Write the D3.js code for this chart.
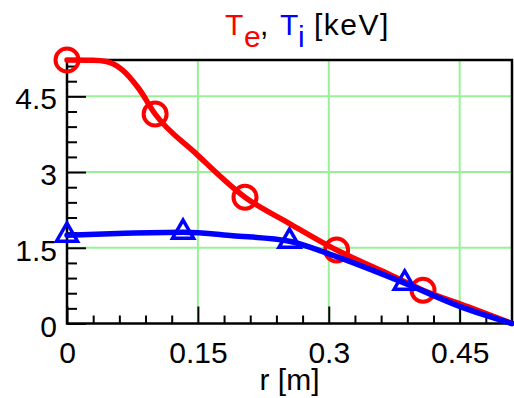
<!DOCTYPE html>
<html>
<head>
<meta charset="utf-8">
<script src="https://cdn.jsdelivr.net/npm/d3@7"></script>
<style>
html,body{margin:0;padding:0;background:#fff;}
svg{display:block;}
text{font-family:"Liberation Sans",Arial,sans-serif;}
</style>
</head>
<body>
<script>
// ---- data ----
const teCurveR = [0, 0.03, 0.045, 0.063, 0.082, 0.101, 0.147, 0.204, 0.255, 0.309, 0.36, 0.408, 0.46, 0.51];
const teCurveT = [5.22, 5.215, 5.19, 5.03, 4.66, 4.15, 3.38, 2.50, 1.98, 1.455, 1.05, 0.66, 0.33, 0];
const teMarkR = [0, 0.101, 0.204, 0.309, 0.408];
const teMarkT = [5.22, 4.15, 2.50, 1.455, 0.66];

const tiCurveR = [0, 0.066, 0.133, 0.19, 0.255, 0.30, 0.387, 0.45, 0.51];
const tiCurveT = [1.75, 1.79, 1.81, 1.74, 1.63, 1.38, 0.80, 0.34, 0];
const tiMarkR = [0, 0.133, 0.255, 0.387];
const tiMarkT = [1.75, 1.81, 1.63, 0.80];

const xTicks = [0, 0.15, 0.3, 0.45];
const xTickLabels = ["0", "0.15", "0.3", "0.45"];
const yTicks = [0, 1.5, 3, 4.5];
const yTickLabels = ["0", "1.5", "3", "4.5"];
const xDomain = [0, 0.51];
const yDomain = [0, 5.22];

// ---- layout ----
const W = 514, H = 398;
const L = 67, R = 512, T = 60, B = 323.5;
const FS = 30;
const gridColor = "#98f098";

const svg = d3.select("body").append("svg").attr("width", W).attr("height", H);

const x = d3.scaleLinear().domain(xDomain).range([L, R]);
const y = d3.scaleLinear().domain(yDomain).range([B, T]);

// grid
const grid = svg.append("g");
grid.selectAll(".gx").data(xTicks.filter(d => d > 0)).join("line")
  .attr("x1", d => x(d)).attr("x2", d => x(d)).attr("y1", T).attr("y2", B)
  .attr("stroke", gridColor).attr("stroke-width", 2);
grid.selectAll(".gy").data(yTicks.filter(d => d > 0)).join("line")
  .attr("x1", L).attr("x2", R).attr("y1", d => y(d)).attr("y2", d => y(d))
  .attr("stroke", gridColor).attr("stroke-width", 2);

// minor ticks
const xMinor = d3.range(0, 0.5101, 0.03).map(v => +v.toFixed(2)).filter(v => !xTicks.includes(v) && v < 0.51);
const yMinor = d3.range(0, 5.2, 0.3).map(v => +v.toFixed(1)).filter(v => !yTicks.includes(v) && v > 0);

const gxMinor = svg.append("g").attr("transform", `translate(0,${B})`)
  .call(d3.axisBottom(x).tickValues(xMinor).tickSize(-8).tickFormat(""));
const gyMinor = svg.append("g").attr("transform", `translate(${L},0)`)
  .call(d3.axisLeft(y).tickValues(yMinor).tickSize(-10).tickFormat(""));

const gx = svg.append("g").attr("transform", `translate(0,${B})`)
  .call(d3.axisBottom(x).tickValues(xTicks).tickSize(-17).tickPadding(18)
    .tickFormat((d, i) => xTickLabels[i]));
const gy = svg.append("g").attr("transform", `translate(${L},0)`)
  .call(d3.axisLeft(y).tickValues(yTicks).tickSize(-19).tickPadding(10)
    .tickFormat((d, i) => yTickLabels[i]));
gy.selectAll("text").attr("dy", "0.42em");

[gxMinor, gyMinor, gx, gy].forEach(g => {
  g.select(".domain").remove();
  g.selectAll(".tick line").attr("stroke", "#000").attr("stroke-width", 2);
  g.selectAll("text").attr("font-size", FS).attr("fill", "#000")
    .attr("font-family", "'Liberation Sans',Arial,sans-serif");
});

// frame
svg.append("rect").attr("x", L).attr("y", T).attr("width", R - L).attr("height", B - T)
  .attr("fill", "none").attr("stroke", "#000").attr("stroke-width", 2.5);

// curves
const line = d3.line().x(d => x(d[0])).y(d => y(d[1])).curve(d3.curveMonotoneX);
const teCurve = teCurveR.map((r, i) => [r, teCurveT[i]]);
const tiCurve = tiCurveR.map((r, i) => [r, tiCurveT[i]]);

svg.append("path").datum(teCurve).attr("d", line)
  .attr("fill", "none").attr("stroke", "#ff0000").attr("stroke-width", 5.5)
  .attr("stroke-linecap", "round").attr("stroke-linejoin", "round");
svg.selectAll(".te").data(teMarkR.map((r, i) => [r, teMarkT[i]])).join("circle")
  .attr("cx", d => x(d[0])).attr("cy", d => y(d[1])).attr("r", 11.5)
  .attr("fill", "none").attr("stroke", "#ff0000").attr("stroke-width", 4);

svg.append("path").datum(tiCurve).attr("d", line)
  .attr("fill", "none").attr("stroke", "#0000ff").attr("stroke-width", 5.5)
  .attr("stroke-linecap", "round").attr("stroke-linejoin", "round");
const tri = d3.symbol().type(d3.symbolTriangle).size(191);
svg.selectAll(".ti").data(tiMarkR.map((r, i) => [r, tiMarkT[i]])).join("path")
  .attr("d", tri)
  .attr("transform", d => `translate(${x(d[0])},${y(d[1])})`)
  .attr("fill", "none").attr("stroke", "#0000ff").attr("stroke-width", 3.5)
  .attr("stroke-linejoin", "miter");

// title
const title = svg.append("text").attr("y", 35).attr("font-size", FS);
title.append("tspan").attr("x", 225).attr("fill", "#ff0000").text("T");
title.append("tspan").attr("x", 244).attr("fill", "#ff0000").attr("dy", 12).text("e");
title.append("tspan").attr("x", 260).attr("fill", "#000").attr("dy", -12).text(",");
title.append("tspan").attr("x", 280).attr("fill", "#0000ff").text("T");
title.append("tspan").attr("x", 298).attr("fill", "#0000ff").attr("dy", 12).text("i");
title.append("tspan").attr("x", 314).attr("fill", "#000").attr("dy", -12)
  .attr("letter-spacing", 1.5).text("[keV]");

// x label
svg.append("text").attr("x", (L + R) / 2).attr("y", 390).attr("text-anchor", "middle")
  .attr("font-size", FS).attr("fill", "#000").text("r [m]");
</script>
</body>
</html>
